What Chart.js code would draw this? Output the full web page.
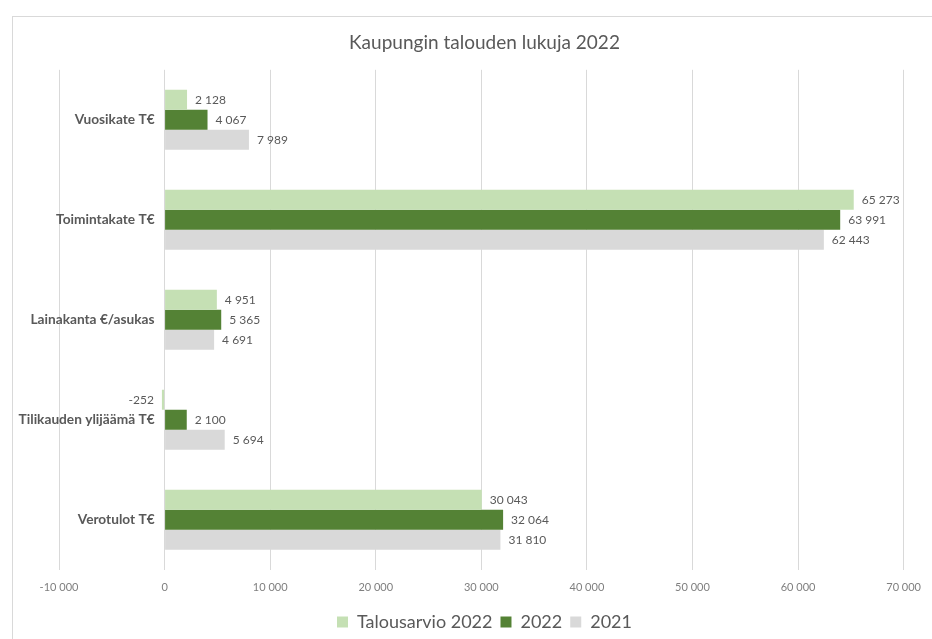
<!DOCTYPE html>
<html>
<head>
<meta charset="utf-8">
<script src="https://cdn.jsdelivr.net/npm/chart.js@4/dist/chart.umd.min.js"></script>
<style>
  html, body { margin: 0; padding: 0; background: #fff; }
  #wrap { position: relative; width: 932px; height: 639px; overflow: hidden; }
  #frame { position: absolute; left: 12px; top: 16px; width: 1000px; height: 700px; border: 1px solid #d9d9d9; pointer-events: none; }
  canvas { position: absolute; left: 0; top: 0; }
</style>
</head>
<body>
<div id="wrap">
  <div id="frame"></div>
  <canvas id="chart" width="932" height="639"></canvas>
</div>
<script>
const categories = ["Vuosikate T€", "Toimintakate T€", "Lainakanta €/asukas", "Tilikauden ylijäämä T€", "Verotulot T€"];
const talousarvio2022 = [2128, 65273, 4951, -252, 30043];
const tot2022 = [4067, 63991, 5365, 2100, 32064];
const tot2021 = [7989, 62443, 4691, 5694, 31810];
const xMin = -10000, xMax = 70000, xStep = 10000;

function fmt(v) {
    const s = Math.abs(Math.round(v)).toString().replace(/\B(?=(\d{3})+(?!\d))/g, " ");
    return (v < 0 ? "-" : "") + s;
}

const font = "Lato, 'Open Sans', sans-serif";
const txt = "#595959";

// value labels at bar ends + category names right-aligned just left of zero
const labelsPlugin = {
    id: "labelsPlugin",
    afterDatasetsDraw(chart) {
        const ctx = chart.ctx;
        const xs = chart.scales.x, ys = chart.scales.y;
        ctx.save();
        ctx.textBaseline = "middle";

        ctx.font = "bold 13.7px " + font;
        ctx.fillStyle = txt;
        ctx.textAlign = "right";
        const x0 = xs.getPixelForValue(0) - 10;
        ys.ticks.forEach((t, i) => {
            ctx.fillText(ys.getLabelForValue(t.value), x0, ys.getPixelForTick(i));
        });

        ctx.font = "12px " + font;
        chart.data.datasets.forEach((ds, i) => {
            const meta = chart.getDatasetMeta(i);
            meta.data.forEach((bar, j) => {
                const v = ds.data[j];
                if (v < 0) {
                    ctx.textAlign = "right";
                    ctx.fillText(fmt(v), bar.x - 8, bar.y);
                } else {
                    ctx.textAlign = "left";
                    ctx.fillText(fmt(v), bar.x + 8, bar.y);
                }
            });
        });
        ctx.restore();
    }
};

new Chart(document.getElementById("chart"), {
    type: "bar",
    data: {
        labels: categories,
        datasets: [
            { label: "Talousarvio 2022", data: talousarvio2022, backgroundColor: "#c5e0b4" },
            { label: "2022", data: tot2022, backgroundColor: "#548235" },
            { label: "2021", data: tot2021, backgroundColor: "#d9d9d9" }
        ]
    },
    options: {
        indexAxis: "y",
        responsive: false,
        animation: false,
        datasets: { bar: { barPercentage: 1, categoryPercentage: 0.6 } },
        layout: { padding: { left: 59, right: 22, top: 20, bottom: -2 } },
        plugins: {
            title: {
                display: true,
                text: "Kaupungin talouden lukuja 2022",
                color: txt,
                font: { family: font, size: 19, weight: "normal" },
                padding: { top: 11, bottom: 16 }
            },
            legend: {
                position: "bottom",
                labels: {
                    color: txt,
                    font: { family: font, size: 18 },
                    boxWidth: 11,
                    boxHeight: 11,
                    padding: 8
                }
            },
            tooltip: { enabled: false }
        },
        scales: {
            x: {
                min: xMin,
                max: xMax,
                ticks: {
                    stepSize: xStep,
                    color: "#7f7f7f",
                    font: { family: font, size: 11 },
                    padding: 11,
                    callback: v => fmt(v)
                },
                grid: { color: "#d9d9d9", drawTicks: false },
                border: { display: false }
            },
            y: {
                ticks: { display: false },
                grid: { display: false, drawTicks: false },
                border: { display: false },
                afterFit: s => { s.width = 0; }
            }
        }
    },
    plugins: [labelsPlugin]
});
</script>
</body>
</html>
